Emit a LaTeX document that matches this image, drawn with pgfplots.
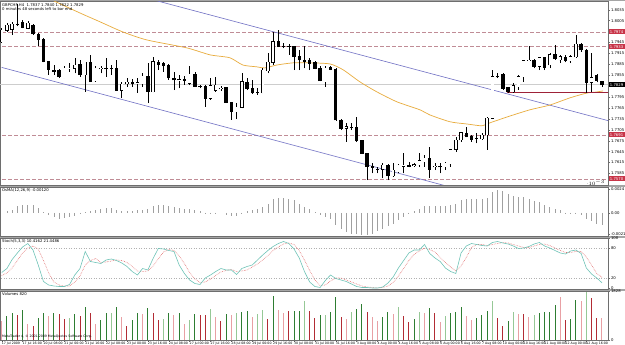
\documentclass[border=0pt]{standalone}
\usepackage{fontspec}
\setmainfont{DejaVu Sans}
\usepackage{pgfplots}
\usepackage{pgfplotstable}
\pgfplotsset{compat=1.18}

\definecolor{boxred}{RGB}{200,52,72}
\definecolor{lvl}{RGB}{192,140,150}
\definecolor{chan}{RGB}{112,112,196}
\definecolor{maline}{RGB}{232,172,60}
\definecolor{supp}{RGB}{158,34,56}
\definecolor{bidln}{RGB}{205,205,205}
\definecolor{sep}{RGB}{165,165,165}
\definecolor{frame}{RGB}{110,110,110}
\definecolor{vdg}{RGB}{46,125,50}
\definecolor{vlg}{RGB}{150,200,150}
\definecolor{vdr}{RGB}{178,44,52}
\definecolor{vpk}{RGB}{232,160,164}
\definecolor{stmain}{RGB}{112,196,184}
\definecolor{stsig}{RGB}{226,110,110}
\definecolor{osma}{RGB}{160,160,160}

\newcommand\tinyfont{\fontsize{3.8}{4.3}\selectfont}
\newcommand\datefont{\fontsize{3.2}{3.6}\selectfont}

% H4 candles: index, open, high, low, close
\pgfplotstableread{
i o h l c
0 1.7947 1.7984 1.7943 1.7978
1 1.7978 1.7998 1.7975 1.7993
2 1.7981 1.8002 1.7966 1.7996
3 1.7996 1.8052 1.7989 1.7994
4 1.8001 1.8007 1.7984 1.7987
5 1.7984 1.8005 1.7981 1.7998
6 1.7993 1.7996 1.7966 1.7969
7 1.7968 1.7970 1.7934 1.7954
8 1.7954 1.7957 1.7890 1.7892
9 1.7892 1.7895 1.7856 1.7871
10 1.7869 1.7883 1.7856 1.7865
11 1.7867 1.7871 1.7847 1.7851
12 1.7848 1.7879 1.7847 1.7874
13 1.7872 1.7888 1.7865 1.7875
14 1.7874 1.7902 1.7860 1.7883
15 1.7886 1.7897 1.7851 1.7856
16 1.7856 1.7892 1.7810 1.7890
17 1.7891 1.7911 1.7836 1.7837
18 1.7839 1.7879 1.7837 1.7874
19 1.7873 1.7880 1.7860 1.7874
20 1.7874 1.7902 1.7851 1.7873
21 1.7874 1.7883 1.7856 1.7873
22 1.7874 1.7897 1.7813 1.7814
23 1.7814 1.7837 1.7792 1.7831
24 1.7831 1.7847 1.7824 1.7835
25 1.7834 1.7844 1.7824 1.7832
26 1.7832 1.7847 1.7807 1.7834
27 1.7831 1.7860 1.7824 1.7853
28 1.7853 1.7888 1.7778 1.7810
29 1.7810 1.7906 1.7808 1.7892
30 1.7890 1.7897 1.7869 1.7885
31 1.7888 1.7892 1.7865 1.7881
32 1.7881 1.7885 1.7842 1.7847
33 1.7847 1.7865 1.7814 1.7842
34 1.7842 1.7856 1.7819 1.7843
35 1.7843 1.7854 1.7828 1.7841
36 1.7833 1.7879 1.7828 1.7858
37 1.7858 1.7865 1.7822 1.7824
38 1.7825 1.7828 1.7819 1.7823
39 1.7824 1.7827 1.7769 1.7792
40 1.7792 1.7847 1.7787 1.7826
41 1.7814 1.7851 1.7810 1.7828
42 1.7818 1.7826 1.7813 1.7820
43 1.7821 1.7824 1.7778 1.7780
44 1.7780 1.7782 1.7732 1.7755
45 1.7755 1.7778 1.7734 1.7767
46 1.7767 1.7860 1.7764 1.7837
47 1.7835 1.7847 1.7814 1.7819
48 1.7819 1.7842 1.7804 1.7807
49 1.7808 1.7819 1.7801 1.7807
50 1.7807 1.7874 1.7805 1.7868
51 1.7867 1.7915 1.7860 1.7890
52 1.7890 1.7975 1.7883 1.7947
53 1.7947 1.7978 1.7932 1.7934
54 1.7935 1.7943 1.7929 1.7934
55 1.7934 1.7941 1.7911 1.7933
56 1.7933 1.7936 1.7869 1.7906
57 1.7906 1.7924 1.7869 1.7897
58 1.7897 1.7934 1.7874 1.7893
59 1.7895 1.7902 1.7869 1.7888
60 1.7890 1.7894 1.7871 1.7874
61 1.7874 1.7879 1.7838 1.7840
62 1.7837 1.7879 1.7824 1.7874
63 1.7877 1.7880 1.7869 1.7871
64 1.7871 1.7874 1.7730 1.7732
65 1.7732 1.7734 1.7704 1.7709
66 1.7709 1.7723 1.7672 1.7714
67 1.7713 1.7723 1.7704 1.7711
68 1.7712 1.7739 1.7672 1.7675
69 1.7675 1.7677 1.7638 1.7640
70 1.7640 1.7642 1.7567 1.7604
71 1.7604 1.7613 1.7585 1.7602
72 1.7597 1.7604 1.7585 1.7596
73 1.7596 1.7613 1.7572 1.7608
74 1.7608 1.7611 1.7567 1.7579
75 1.7579 1.7613 1.7576 1.7594
76 1.7590 1.7610 1.7585 1.7608
77 1.7605 1.7640 1.7585 1.7607
78 1.7606 1.7617 1.7602 1.7605
79 1.7607 1.7615 1.7604 1.7609
80 1.7608 1.7642 1.7604 1.7620
81 1.7617 1.7636 1.7604 1.7627
82 1.7627 1.7659 1.7572 1.7596
83 1.7603 1.7613 1.7594 1.7605
84 1.7605 1.7613 1.7585 1.7603
85 1.7604 1.7617 1.7594 1.7613
86 1.7611 1.7651 1.7604 1.7650
87 1.7651 1.7686 1.7645 1.7677
88 1.7677 1.7700 1.7672 1.7697
89 1.7695 1.7714 1.7684 1.7686
90 1.7688 1.7691 1.7672 1.7679
91 1.7682 1.7695 1.7668 1.7681
92 1.7681 1.7695 1.7677 1.7691
93 1.7691 1.7739 1.7650 1.7737
94 1.7737 1.7869 1.7734 1.7851
95 1.7851 1.7860 1.7847 1.7850
96 1.7858 1.7860 1.7814 1.7819
97 1.7822 1.7824 1.7807 1.7810
98 1.7810 1.7833 1.7807 1.7826
99 1.7824 1.7856 1.7814 1.7851
100 1.7851 1.7897 1.7837 1.7895
101 1.7896 1.7936 1.7894 1.7897
102 1.7895 1.7899 1.7874 1.7879
103 1.7879 1.7906 1.7869 1.7903
104 1.7903 1.7906 1.7869 1.7877
105 1.7883 1.7915 1.7874 1.7911
106 1.7913 1.7938 1.7897 1.7900
107 1.7897 1.7911 1.7888 1.7906
108 1.7905 1.7911 1.7890 1.7895
109 1.7894 1.7911 1.7888 1.7906
110 1.7906 1.7966 1.7902 1.7940
111 1.7940 1.7943 1.7920 1.7924
112 1.7923 1.7926 1.7807 1.7835
113 1.7835 1.7915 1.7810 1.7848
114 1.7855 1.7858 1.7835 1.7840
115 1.7837 1.7840 1.7822 1.7829
}\candles

% moving average
\pgfplotstableread{
i p
7.3 1.8079
9.6 1.8062
15.0 1.8026
18.8 1.8002
23.2 1.7974
27.8 1.7952
35.5 1.7930
39.9 1.7911
43.7 1.7903
46.2 1.7883
48.9 1.7878
50.4 1.7875
52.7 1.7883
55.8 1.7889
59.1 1.7889
62.9 1.7886
65.4 1.7870
68.6 1.7837
71.9 1.7809
75.7 1.7782
80.1 1.7760
82.0 1.7746
85.9 1.7727
89.1 1.7721
92.0 1.7716
93.5 1.7724
97.4 1.7743
101.2 1.7760
105.0 1.7773
108.9 1.7793
112.1 1.7806
114.0 1.7809
115.2 1.7812
}\mavg

% OsMA histogram
\pgfplotstableread{
i v
0 0.0000
1 0.00017
2 0.0003
3 0.0007
4 0.0008
5 0.0008
6 0.0008
7 0.0005
8 0.0001
9 -0.0002
10 -0.0004
11 -0.0006
12 -0.0005
13 -0.0004
14 -0.0003
15 -0.0001
16 0.0001
17 0.0002
18 0.0003
19 0.0004
20 0.0005
21 0.0005
22 0.0003
23 0.0002
24 0.0002
25 0.0002
26 0.0003
27 0.0003
28 0.0004
29 0.0007
30 0.0008
31 0.0008
32 0.0007
33 0.0006
34 0.0005
35 0.0004
36 0.0004
37 0.0003
38 0.0002
39 0.00004
40 0.00004
41 0.00004
42 0.00000
43 -0.0002
44 -0.0003
45 -0.0003
46 0.00004
47 0.0002
48 0.0003
49 0.0004
50 0.0006
51 0.0009
52 0.0014
53 0.0015
54 0.0015
55 0.0014
56 0.0013
57 0.0009
58 0.0006
59 0.0004
60 0.0001
61 -0.0002
62 -0.0004
63 -0.0006
64 -0.0012
65 -0.0016
66 -0.0019
67 -0.0021
68 -0.0021
69 -0.0022
70 -0.0022
71 -0.0021
72 -0.0018
73 -0.0016
74 -0.0013
75 -0.0011
76 -0.0007
77 -0.0004
78 -0.0001
79 0.0002
80 0.0004
81 0.0007
82 0.0007
83 0.0007
84 0.0007
85 0.0007
86 0.0008
87 0.0009
88 0.0013
89 0.0014
90 0.0014
91 0.0014
92 0.0014
93 0.0015
94 0.0021
95 0.0023
96 0.0022
97 0.0019
98 0.0017
99 0.0016
100 0.0016
101 0.0014
102 0.0012
103 0.0011
104 0.0008
105 0.0006
106 0.0004
107 0.0003
108 0.00003
109 -0.0001
110 -0.0001
111 -0.0002
112 -0.0006
113 -0.0008
114 -0.0011
115 -0.0012
}\osmadata

% Stochastic: main and signal
\pgfplotstableread{
i m s
0 31 25
1 39 30
2 57 40
3 70 55
4 82 70
5 89 80
6 76 84
7 46 78
8 13 55
9 6 30
10 4 12
11 3 6
12 3 4
13 7 4
14 26 12
15 39 24
16 73 46
17 53 55
18 51 59
19 49 51
20 56 52
21 58 54
22 55 56
23 50 55
24 43 51
25 33 43
26 26 34
27 39 33
28 36 34
29 59 44
30 79 58
31 78 72
32 75 77
33 73 75
34 46 64
35 29 49
36 16 31
37 9 18
38 7 11
39 20 12
40 26 18
41 33 25
42 39 32
43 36 35
44 36 37
45 27 33
46 39 34
47 43 36
48 46 42
49 56 48
50 66 56
51 75 65
52 83 75
53 89 82
54 93 88
55 89 90
56 78 87
57 60 75
58 33 56
59 12 35
60 3 16
61 1 5
62 15 6
63 26 14
64 19 20
65 16 20
66 13 16
67 8 12
68 3 8
69 1 4
70 1 2
71 0 1
72 0 0
73 2 1
74 10 4
75 22 11
76 40 24
77 55 39
78 70 55
79 76 67
80 76 74
81 87 80
82 69 77
83 60 72
84 53 61
85 40 51
86 33 42
87 29 34
88 70 44
89 84 61
90 89 81
91 87 87
92 85 87
93 84 85
94 91 87
95 93 89
96 90 91
97 88 90
98 84 87
99 79 84
100 80 81
101 83 81
102 88 84
103 91 87
104 84 88
105 80 85
106 75 80
107 70 75
108 68 71
109 74 71
110 76 73
111 69 73
112 40 62
113 28 46
114 20 29
115 10.4162 21.4486
}\stochdata

% Volumes; k: 0 dark green, 1 light green, 2 dark red, 3 pink
\pgfplotstableread{
i v k
0 721 3
1 895 0
2 995 0
3 933 2
4 1119 0
5 597 3
6 535 2
7 808 0
8 995 0
9 908 3
10 1020 0
11 970 2
12 783 2
13 833 1
14 970 0
15 895 2
16 1219 0
17 995 2
18 597 3
19 746 0
20 1020 0
21 995 1
22 1219 0
23 870 3
24 535 2
25 746 0
26 995 0
27 970 3
28 1181 0
29 1020 2
30 746 2
31 783 1
32 995 0
33 933 3
34 995 0
35 597 3
36 746 1
37 970 0
38 933 2
39 933 2
40 1156 1
41 846 3
42 721 2
43 970 0
44 933 3
45 995 1
46 1032 0
47 1069 0
48 870 3
49 970 1
50 1119 1
51 783 2
52 1650 0
53 1119 3
54 1020 3
55 1094 2
56 1094 0
57 1094 0
58 1467 1
59 1082 2
60 808 2
61 933 0
62 933 1
63 1057 0
64 1600 0
65 846 2
66 783 3
67 1032 1
68 1156 0
69 1330 0
70 1057 2
71 870 3
72 709 3
73 846 0
74 1032 0
75 958 3
76 1219 1
77 908 2
78 684 2
79 771 0
80 1032 1
81 995 3
82 1206 0
83 995 2
84 659 3
85 908 1
86 1020 0
87 1057 0
88 1243 0
89 895 3
90 746 3
91 808 0
92 933 0
93 1082 0
94 1455 1
95 808 2
96 535 2
97 721 0
98 1057 1
99 970 3
100 970 2
101 870 3
102 933 1
103 1000 0
104 1057 0
105 1057 0
106 1306 0
107 1600 3
108 746 2
109 783 0
110 1492 0
111 1455 3
112 1790 1
113 1567 2
114 820 2
115 820 3
}\voldata

\pgfplotsset{
  mtpanel/.style={
    scale only axis, width=608pt,
    xmin=-0.326, xmax=116.15,
    axis line style={draw=frame, line width=0.5pt},
    xtick=\empty, ytick pos=right, yticklabel pos=right,
    tick align=outside, major tick length=2pt,
    tick style={draw=frame, line width=0.4pt},
    yticklabel style={font=\tinyfont, inner sep=0.8pt},
    clip mode=individual,
    /pgf/number format/assume math mode=true,
  },
  % vertical segments drawn as one-sided error bars, no point markers
  candleseg/.style={draw=none, mark=none, forget plot,
    error bars/y dir=plus, error bars/y explicit, error bars/error mark=none},
}
\tikzset{
  pricebox/.style={anchor=west, text=white, font=\tinyfont, inner sep=0.6pt,
    minimum width=16pt, minimum height=5pt, xshift=0.4pt},
  paneltitle/.style={anchor=north west, font=\tinyfont, inner sep=0pt},
}

\begin{document}
\begin{tikzpicture}
\useasboundingbox (0pt,0pt) rectangle (625pt,345pt);
\fill[white] (0pt,0pt) rectangle (625pt,345pt);
% window separators
\fill[sep] (0pt,343.6pt) rectangle (625pt,345pt);
\fill[sep] (0pt,158pt) rectangle (625pt,160pt);
\fill[sep] (0pt,107pt) rectangle (625pt,109pt);
\fill[sep] (0pt,54pt) rectangle (625pt,56pt);

% ---------------- price window ----------------
\begin{axis}[mtpanel, at={(0pt,160pt)}, anchor=south west, height=183.6pt,
  ymin=1.75533, ymax=1.80579,
  ytick={1.8035,1.8005,1.7945,1.7915,1.7885,1.7855,1.7795,1.7765,1.7735,1.7705,1.7675,1.7645,1.7615,1.7585},
  yticklabels={1.8035,1.8005,1.7945,1.7915,1.7885,1.7855,1.7795,1.7765,1.7735,1.7705,1.7675,1.7645,1.7615,1.7585}]
  % bid line
  \addplot[bidln, line width=0.5pt] coordinates {(-1,1.7829) (117,1.7829)};
  % horizontal levels
  \addplot[lvl, line width=0.7pt, dash pattern=on 4pt off 2pt] coordinates {(-1,1.7974) (117,1.7974)};
  \addplot[lvl, line width=0.7pt, dash pattern=on 4pt off 2pt] coordinates {(-1,1.7933) (117,1.7933)};
  \addplot[lvl, line width=0.7pt, dash pattern=on 4pt off 2pt] coordinates {(-1,1.7691) (117,1.7691)};
  \addplot[lvl, line width=0.7pt, dash pattern=on 4pt off 2pt] coordinates {(-1,1.7570) (117,1.7570)};
  % descending channel
  \addplot[chan, line width=0.6pt] coordinates {(15,1.81156) (117,1.7727)};
  \addplot[chan, line width=0.6pt] coordinates {(0,1.78765) (90,1.75321)};
  % moving average
  \addplot[maline, line width=0.7pt, smooth, tension=0.4] table[x=i, y=p] {\mavg};
  % support ray
  \addplot[supp, line width=0.7pt] coordinates {(96.8,1.7809) (117,1.7809)};
  % candle wicks
  \addplot[candleseg, error bars/error bar style={draw=black, line width=0.55pt}]
    table[x=i, y=l, y error plus expr=\thisrow{h}-\thisrow{l}] {\candles};
  % candle bodies (outline / bearish fill)
  \addplot[candleseg, error bars/error bar style={draw=black, line width=3.4pt}]
    table[x=i, y expr={min(\thisrow{o},\thisrow{c})-0.0001},
      y error plus expr={abs(\thisrow{c}-\thisrow{o})+0.0002}] {\candles};
  % bullish bodies
  \addplot[candleseg, restrict expr to domain={\thisrow{c}-\thisrow{o}}{0.00001:1},
    error bars/error bar style={draw=white, line width=2.4pt}]
    table[x=i, y=o, y error plus expr=\thisrow{c}-\thisrow{o}] {\candles};
  % price tags on the scale
  \node[pricebox, fill=boxred] at (axis cs:116.15,1.7974) {1.7974};
  \node[pricebox, fill=boxred] at (axis cs:116.15,1.7933) {1.7933};
  \node[pricebox, fill=black]  at (axis cs:116.15,1.7829) {1.7829};
  \node[pricebox, fill=boxred] at (axis cs:116.15,1.7691) {1.7691};
  \node[pricebox, fill=boxred] at (axis cs:116.15,1.7570) {1.7570};
  \node[paneltitle, xshift=2pt, yshift=-1.6pt] at (rel axis cs:0,1)
    {GBPCHF,H4\ \ 1.7837 1.7840 1.7822 1.7829};
  \node[paneltitle, xshift=2pt, yshift=-6.2pt] at (rel axis cs:0,1)
    {0 minutes 48 seconds left to bar end};
\end{axis}

% ---------------- OsMA ----------------
\begin{axis}[mtpanel, at={(0pt,109pt)}, anchor=south west, height=49pt,
  ymin=-0.0023, ymax=0.0026,
  ytick={0.0024,0,-0.0021}, yticklabels={0.0024,0.00,-0.0021}]
  \addplot[ycomb, osma, line width=0.8pt, mark=none] table[x=i, y=v] {\osmadata};
  \node[paneltitle, xshift=2pt, yshift=-1.6pt] at (rel axis cs:0,1)
    {OsMA(12,26,9) -0.00120};
\end{axis}

% ---------------- Stochastic ----------------
\begin{axis}[mtpanel, at={(0pt,56pt)}, anchor=south west, height=51pt,
  ymin=-2, ymax=100,
  ytick={100,80,20,0}, yticklabels={100,80,20,0}]
  \addplot[black!30, line width=0.5pt, dotted] coordinates {(-1,80) (117,80)};
  \addplot[black!30, line width=0.5pt, dotted] coordinates {(-1,20) (117,20)};
  \addplot[stsig, line width=0.6pt, densely dotted] table[x=i, y=s] {\stochdata};
  \addplot[stmain, line width=0.6pt] table[x=i, y=m] {\stochdata};
  \node[paneltitle, xshift=2pt, yshift=-1.6pt] at (rel axis cs:0,1)
    {Stoch(5,3,3) 10.4162 21.4486};
\end{axis}

% ---------------- Volumes ----------------
\begin{axis}[mtpanel, at={(0pt,5pt)}, anchor=south west, height=49pt,
  ymin=0, ymax=1828,
  ytick={1828,0}, yticklabels={1828,0},
  xtick={0,4,...,112}, xtick pos=bottom,
  xticklabels={17 Jul 2009,17 Jul 16:00,20 Jul 08:00,21 Jul 00:00,21 Jul 16:00,22 Jul 08:00,
    23 Jul 00:00,23 Jul 16:00,24 Jul 08:00,27 Jul 00:00,27 Jul 16:00,28 Jul 08:00,
    29 Jul 00:00,29 Jul 16:00,30 Jul 08:00,31 Jul 00:00,31 Jul 16:00,3 Aug 08:00,
    4 Aug 00:00,4 Aug 16:00,5 Aug 08:00,6 Aug 00:00,6 Aug 16:00,7 Aug 08:00,
    10 Aug 00:00,10 Aug 16:00,11 Aug 08:00,12 Aug 00:00,12 Aug 16:00},
  xticklabel style={font=\datefont, anchor=north west, inner sep=0.3pt, xshift=-0.4pt},
  xtick style={draw=frame, line width=0.4pt}]
  \addplot[ycomb, vdg, line width=1pt, mark=none, restrict expr to domain={\thisrow{k}}{0:0}]
    table[x=i, y=v] {\voldata};
  \addplot[ycomb, vlg, line width=1pt, mark=none, restrict expr to domain={\thisrow{k}}{1:1}]
    table[x=i, y=v] {\voldata};
  \addplot[ycomb, vdr, line width=1pt, mark=none, restrict expr to domain={\thisrow{k}}{2:2}]
    table[x=i, y=v] {\voldata};
  \addplot[ycomb, vpk, line width=1pt, mark=none, restrict expr to domain={\thisrow{k}}{3:3}]
    table[x=i, y=v] {\voldata};
  \node[paneltitle, xshift=2pt, yshift=-1.6pt] at (rel axis cs:0,1) {Volumes 820};
  \node[anchor=south west, font=\datefont, inner sep=0pt, xshift=2pt, yshift=1.5pt] at (rel axis cs:0,0)
    {MetaTrader 4, \textcopyright\ 2001-2009 MetaQuotes Software Corp.};
\end{axis}
\end{tikzpicture}
\end{document}
